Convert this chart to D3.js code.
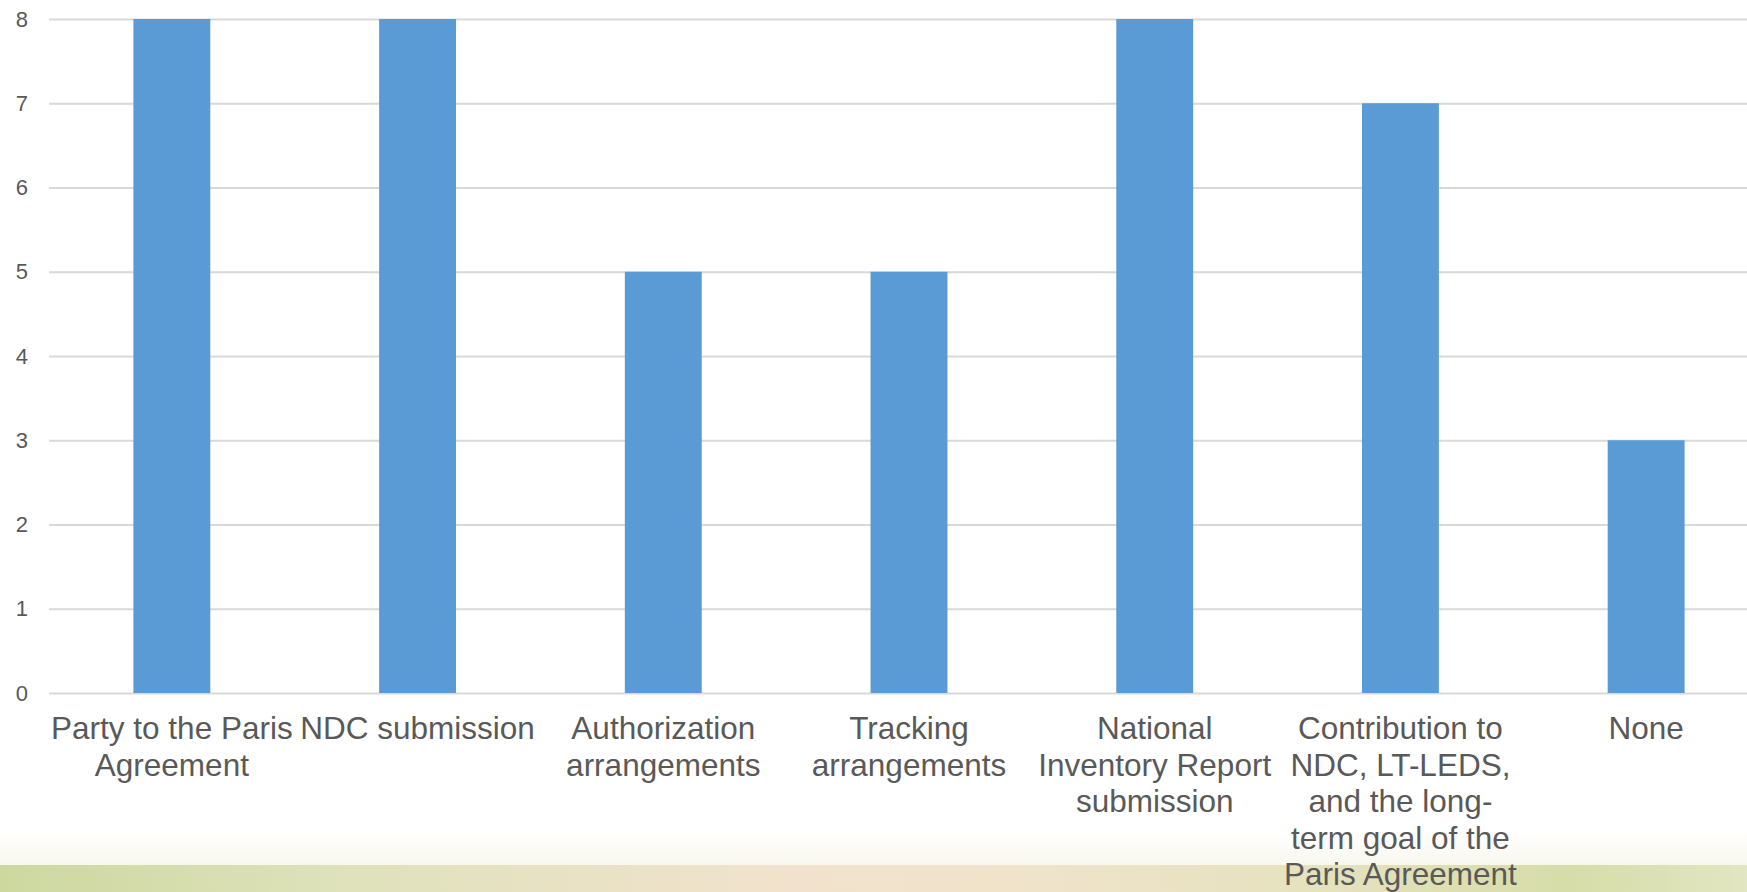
<!DOCTYPE html>
<html>
<head>
<meta charset="utf-8">
<script src="https://cdn.jsdelivr.net/npm/d3@7"></script>
<style>
  html, body { margin: 0; padding: 0; background: #ffffff; overflow: hidden; }
  svg { display: block; font-family: "Liberation Sans", Arial, sans-serif; }
</style>
</head>
<body>
<svg id="chart" width="1747" height="892"></svg>
<script>
// ---- data ----
const categories = [
  "Party to the Paris\nAgreement",
  "NDC submission",
  "Authorization\narrangements",
  "Tracking\narrangements",
  "National\nInventory Report\nsubmission",
  "Contribution to\nNDC, LT-LEDS,\nand the long-\nterm goal of the\nParis Agreement",
  "None"
];
const values = [8, 8, 5, 5, 8, 7, 3];
const yTickValues = [0, 1, 2, 3, 4, 5, 6, 7, 8];

// ---- layout ----
const W = 1747, H = 892;
const plotLeft = 49, plotRightBand = 1769, plotTop = 19, plotBottom = 693;

const svg = d3.select("#chart");

// decorative background strip at the bottom
const defs = svg.append("defs");
const g1 = defs.append("linearGradient").attr("id", "strip").attr("x1", "0").attr("x2", "1").attr("y1", "0").attr("y2", "0");
[["0%", "#cdd89f"], ["20%", "#dfe2bb"], ["45%", "#f2e2cd"], ["60%", "#efe3c9"], ["75%", "#e6e2bf"], ["90%", "#d6dda8"], ["100%", "#e2e6c2"]]
  .forEach(([o, c]) => g1.append("stop").attr("offset", o).attr("stop-color", c));
const g2 = defs.append("linearGradient").attr("id", "fade").attr("x1", "0").attr("x2", "0").attr("y1", "0").attr("y2", "1");
g2.append("stop").attr("offset", "0%").attr("stop-color", "#f4f1e2").attr("stop-opacity", 0);
g2.append("stop").attr("offset", "100%").attr("stop-color", "#f4f1e2").attr("stop-opacity", 0.6);

svg.append("rect").attr("x", 0).attr("y", 830).attr("width", W).attr("height", 36).attr("fill", "url(#fade)");
svg.append("rect").attr("x", 0).attr("y", 865).attr("width", W).attr("height", H - 865).attr("fill", "url(#strip)");

// ---- scales ----
const x = d3.scaleBand()
  .domain(categories)
  .range([plotLeft, plotRightBand])
  .paddingInner(0.687)
  .paddingOuter(0.3435);

const y = d3.scaleLinear()
  .domain([0, 8])
  .range([plotBottom, plotTop]);

// ---- y axis with gridlines ----
const yAxis = svg.append("g")
  .attr("transform", `translate(${plotLeft},0)`)
  .call(d3.axisLeft(y).tickValues(yTickValues).tickSize(-(W - plotLeft)).tickPadding(21).tickFormat(d3.format("d")));
yAxis.select(".domain").remove();
yAxis.selectAll(".tick line").attr("stroke", "#d9d9d9").attr("stroke-width", 2);
yAxis.selectAll(".tick text")
  .attr("fill", "#595959")
  .style("font-size", "22px")
  .style("font-family", "'Liberation Sans', Arial, sans-serif");

// ---- bars ----
svg.append("g").selectAll("rect")
  .data(values)
  .join("rect")
  .attr("x", (d, i) => x(categories[i]))
  .attr("y", d => y(d))
  .attr("width", x.bandwidth())
  .attr("height", d => y(0) - y(d))
  .attr("fill", "#5b9bd5");

// ---- x axis labels ----
const xAxis = svg.append("g")
  .attr("transform", `translate(0,${plotBottom})`)
  .call(d3.axisBottom(x).tickSize(0).tickFormat(""));
xAxis.select(".domain").remove();
xAxis.selectAll(".tick").each(function(d) {
  const lines = d.split("\n");
  const t = d3.select(this).append("text")
    .attr("fill", "#595959")
    .attr("text-anchor", "middle")
    .style("font-size", "31.5px")
    .style("font-family", "'Liberation Sans', Arial, sans-serif");
  lines.forEach((ln, i) => {
    t.append("tspan").attr("x", 0).attr("y", 46 + i * 36.5).text(ln);
  });
});
</script>
</body>
</html>
